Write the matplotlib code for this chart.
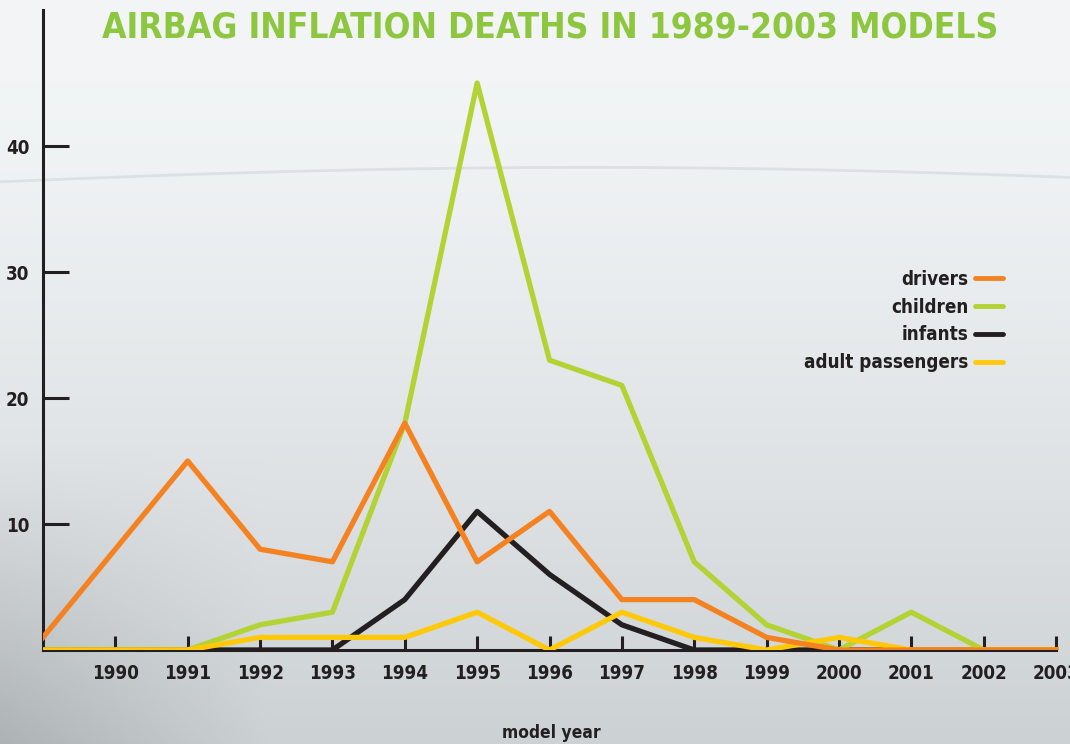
import matplotlib
matplotlib.use('Agg')
import matplotlib.pyplot as plt
import numpy as np

years = list(range(1989, 2004))
drivers = [1, 8, 15, 8, 7, 18, 7, 11, 4, 4, 1, 0, 0, 0, 0]
children = [0, 0, 0, 2, 3, 18, 45, 23, 21, 7, 2, 0, 3, 0, 0]
infants = [0, 0, 0, 0, 0, 4, 11, 6, 2, 0, 0, 0, 0, 0, 0]
adults = [0, 0, 0, 1, 1, 1, 3, 0, 3, 1, 0, 1, 0, 0, 0]
tick_years = list(range(1990, 2004))
y_ticks = [10, 20, 30, 40]

FONT = ['DejaVu Sans', 'Liberation Sans']
plt.rcParams['font.family'] = FONT
plt.rcParams['font.weight'] = 'bold'
plt.rcParams['font.stretch'] = 'condensed'

fig = plt.figure(figsize=(10.7, 7.44), dpi=100)

# background gradient
bg = fig.add_axes([0, 0, 1, 1], zorder=-10)
h, w = 200, 300
yy, xx = np.mgrid[0:1:h*1j, 0:1:w*1j]
top = np.array([0.95, 0.96, 0.965])
bot = np.array([0.80, 0.82, 0.83])
t = np.clip(yy * 1.1 - 0.1, 0, 1)[..., None] ** 1.3
img = top * (1 - t) + bot * t
shade = np.clip((yy - 0.6) / 0.4, 0, 1) * np.clip((0.25 - xx) / 0.25, 0, 1)
img = img - 0.12 * shade[..., None]
bg.imshow(img, extent=[0, 1, 0, 1], aspect='auto', origin='upper')
arc_x = np.linspace(0, 1, 300)
bg.plot(arc_x, 1 - (0.255 - 0.03 * np.cos((arc_x - 0.55) * 2.2)), color='#d8dcdf', lw=2, alpha=0.8)
bg.set_xlim(0, 1)
bg.set_ylim(0, 1)
bg.axis('off')

ax = fig.add_axes([43/1070, 94/744, (1070-43)/1070, (734-94)/744])
ax.patch.set_alpha(0)

ax.plot(years, infants, color='#231f20', lw=3.8, zorder=3, label='infants')
ax.plot(years, children, color='#b3d334', lw=3.8, zorder=4, label='children')
ax.plot(years, adults, color='#ffc90a', lw=3.8, zorder=5, label='adult passengers')
ax.plot(years, drivers, color='#f58220', lw=3.8, zorder=6, label='drivers')

ax.set_xlim(1989, 2003 + 14/72.5)
ax.set_ylim(0, 640/12.6)

for s in ['top', 'right']:
    ax.spines[s].set_visible(False)
for s in ['left', 'bottom']:
    ax.spines[s].set_color('#231f20')
    ax.spines[s].set_linewidth(2.2)
ax.spines['bottom'].set_bounds(1989, 2003)

ax.set_xticks(tick_years)
ax.set_xticklabels([str(y) for y in tick_years])
ax.set_yticks(y_ticks)
ax.tick_params(axis='x', direction='in', length=10, width=2.2, color='#231f20',
               pad=10, labelsize=13.5, labelcolor='#231f20')
ax.tick_params(axis='y', direction='in', length=19, width=2.2, color='#231f20',
               pad=10, labelsize=13.5, labelcolor='#231f20')
for lab in ax.get_xticklabels() + ax.get_yticklabels():
    lab.set_fontweight('bold')
    lab.set_fontstretch('condensed')

fig.text(551/1070, 1 - 733/744, 'model year', ha='center', va='center',
         fontsize=12.5, fontweight='bold', fontstretch='condensed', color='#231f20')

title = fig.text(550/1070, 1 - 28/744, 'AIRBAG INFLATION DEATHS IN 1989-2003 MODELS',
                 ha='center', va='center', fontsize=38, fontweight='bold',
                 fontstretch='condensed', color='#8dc63f')
# fit title width to ~900 px
renderer = fig.canvas.get_renderer()
tw = title.get_window_extent(renderer).width
if tw > 900:
    title.set_fontsize(38 * 900 / tw)

handles, labels = ax.get_legend_handles_labels()
order = [3, 1, 0, 2]
leg = ax.legend([handles[i] for i in order], [labels[i] for i in order],
                loc='upper right', bbox_to_anchor=(1020/1070, 1 - 253/744),
                bbox_transform=fig.transFigure, frameon=False, markerfirst=False,
                handlelength=1.5, handletextpad=0.35, labelspacing=0.47,
                prop={'family': FONT, 'weight': 'bold', 'size': 13.5, 'stretch': 'condensed'})
for txt in leg.get_texts():
    txt.set_color('#231f20')
for line in leg.get_lines():
    line.set_linewidth(3.5)
    line.set_solid_capstyle('round')

fig.savefig('out.png', dpi=100)
